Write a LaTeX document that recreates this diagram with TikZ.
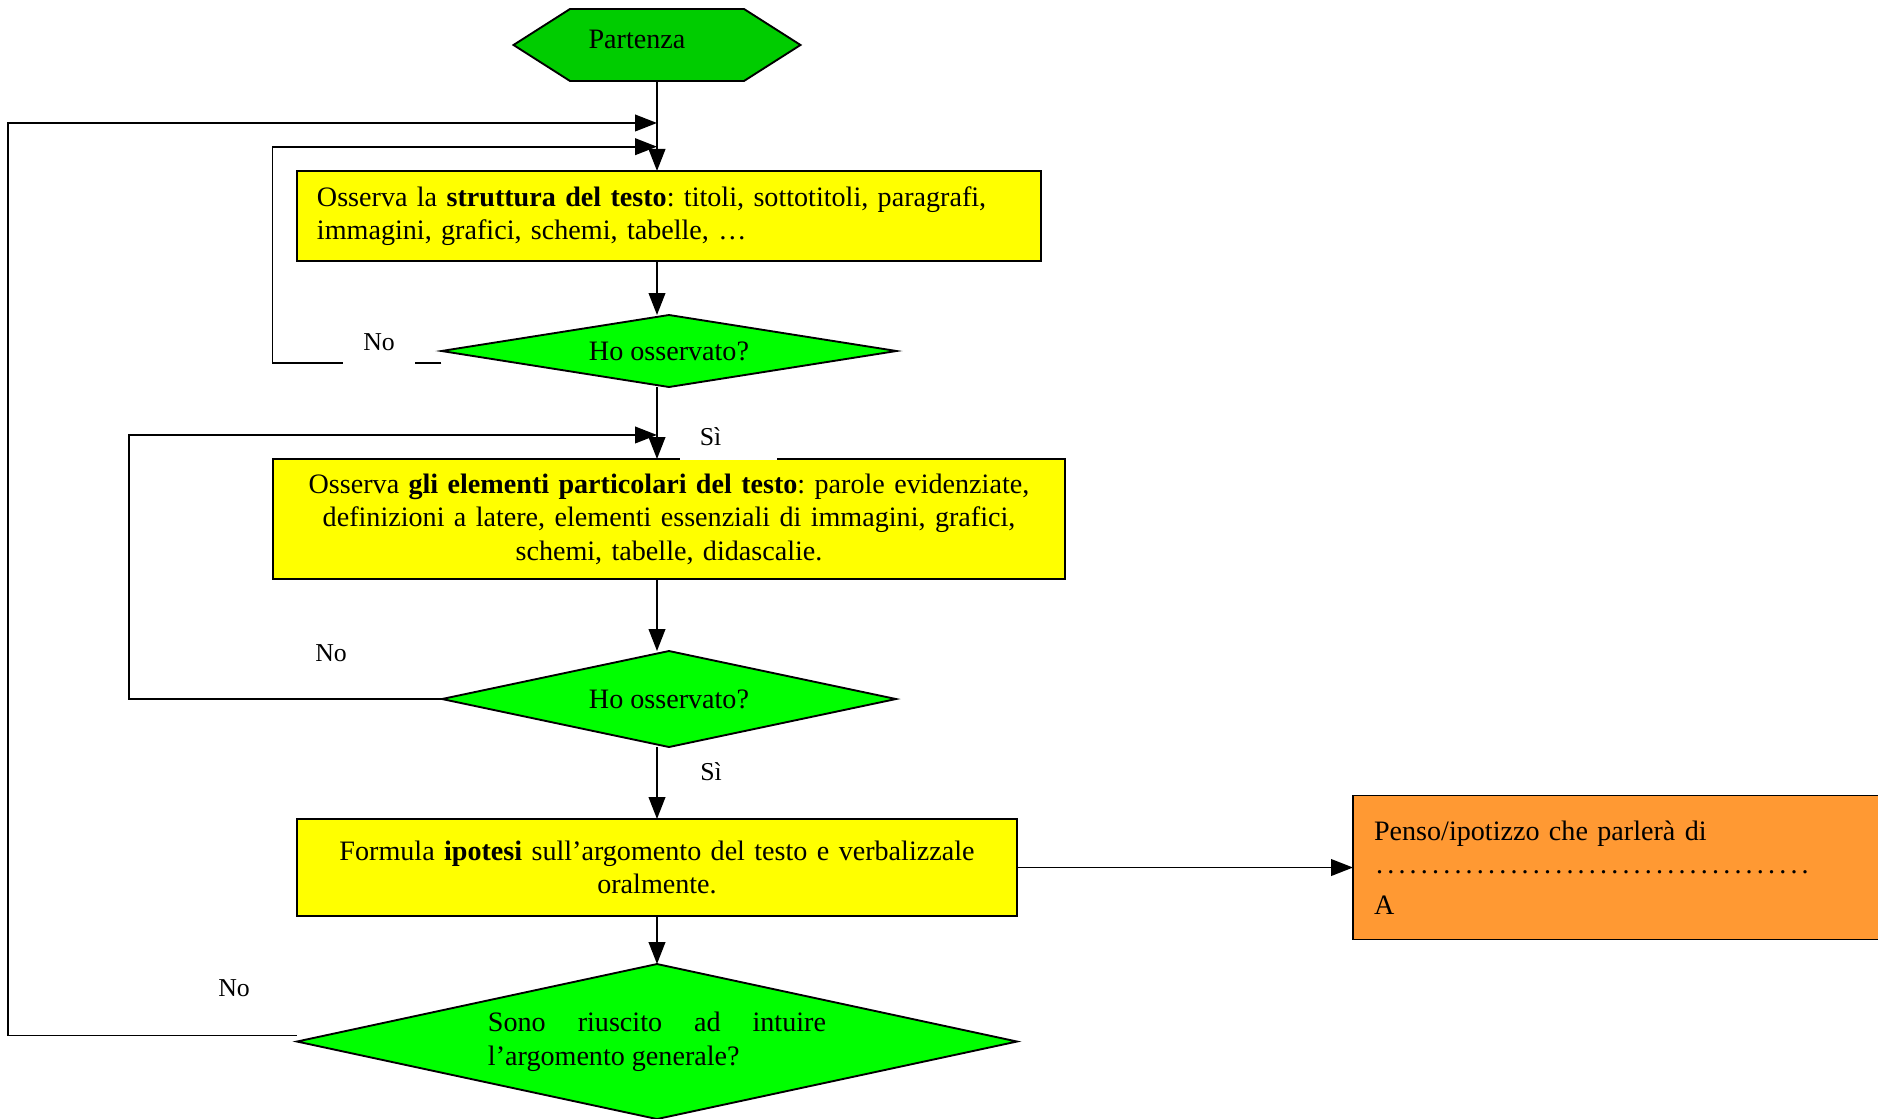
\documentclass[tikz,border=0pt]{standalone}
\usepackage{fontspec}
\setmainfont{Liberation Serif}
\usepackage{tikz}
\usetikzlibrary{positioning}
\usetikzlibrary{shapes.geometric}
\usetikzlibrary{shapes.symbols}
\usetikzlibrary{arrows.meta}

\definecolor{startgreen}{HTML}{00CC00}
\definecolor{askgreen}{HTML}{00FF00}
\definecolor{stepyellow}{HTML}{FFFF00}
\definecolor{guessorange}{HTML}{FF9933}

\newcommand{\dotrow}[1]{\leavevmode\hbox to #1{\leaders\hbox to 0.168cm{\hss.\hss}\hfill}}

\begin{document}
\begin{tikzpicture}
		[x=0.015cm, y=-0.015cm, line width=0.8pt, outer sep=0pt,
		>={Triangle[length=0.33cm, width=0.25cm]},
		font=\fontsize{12}{14.3}\selectfont\frenchspacing,
		stepbox/.style={rectangle, draw=black, fill=stepyellow, inner xsep=0.3cm, inner ysep=0pt},
		ask/.style={diamond, draw=black, fill=askgreen, inner sep=0pt},
		tag/.style={fill=white, inner xsep=0.3cm, inner ysep=0.21cm, align=left, font=\fontsize{11}{13}\selectfont}]
		\useasboundingbox (0,0) rectangle (1878,1119);

		\node[signal, signal to=east and west, signal pointer angle=65, draw=black, fill=startgreen,
			minimum width=4.305cm, minimum height=1.08cm, inner sep=0pt] (start) at (657,45) {\raisebox{0.18cm}{Partenza}\hspace*{0.6cm}};
		\node[stepbox, below=1.35cm of start, xshift=0.18cm, text width=10.56cm, minimum height=1.35cm, align=left] (box1)
			{Osserva la \textbf{struttura del testo}: titoli, sottotitoli, paragrafi,\\ immagini, grafici, schemi, tabelle, …};
		\node[ask, aspect=6.3, below=0.81cm of box1, minimum width=6.825cm, minimum height=1.08cm] (d1) {Ho osservato?};
		\node[stepbox, below=1.08cm of d1, text width=11.28cm, minimum height=1.8cm, align=center] (box2)
			{Osserva \textbf{gli elementi particolari del testo}: parole evidenziate,\\ definizioni a latere, elementi essenziali di immagini, grafici,\\ schemi, tabelle, didascalie.};
		\node[ask, aspect=4.7, below=1.08cm of box2, minimum width=6.81cm, minimum height=1.44cm] (d2) {Ho osservato?};
		\node[stepbox, below=1.08cm of d2, xshift=-0.18cm, text width=10.2cm, minimum height=1.455cm, align=center] (box3)
			{Formula \textbf{ipotesi} sull'argomento del testo e verbalizzale\\ oralmente.};
		\node[ask, aspect=4.65, below=0.72cm of box3, minimum width=10.8cm, minimum height=2.325cm, text width=5.07cm, align=justify] (d3)
			{Sono riuscito ad intuire\linebreak l'argomento generale?};
		\node[rectangle, draw=black, fill=guessorange, right=5.04cm of box3, minimum width=8.13cm, minimum height=2.16cm,
			inner xsep=0.315cm, text width=7.5cm, align=left] (guess)
			{Penso/ipotizzo che parlerà di\\ \dotrow{6.66cm}\\[0.1cm] A};

		\coordinate (in3) at (657,123);
		\coordinate (in1) at (657,146.7);
		\coordinate (in2) at (657,435);

		\draw[->] (start.south) -- (start.south |- box1.north);
		\draw[->] (start.south |- box1.south) -- (start.south |- d1.north);
		\draw[->] (start.south |- d1.south) -- (start.south |- box2.north);
		\draw[->] (start.south |- box2.south) -- (start.south |- d2.north);
		\draw[->] (box3.north |- d2.south) -- (box3.north);
		\draw[->] (box3.south) -- (d3.north);
		\draw[->] (box3.east) -- (box3.east -| guess.west);

		\draw[->] ([yshift=-0.18cm]d1.west) -- ++(-169,0) |- (in1);
		\draw[->] (d2.west) -- ++(-313,0) |- (in2);
		\draw[->] ([yshift=0.09cm]d3.west) -- ++(-289,0) |- (in3);

		\node[tag] (no1) at (379,342) {No};
		\node[tag, text width=0.86cm] (si1) at (728.5,437) {Sì};
		\node[tag] (no2) at (331,653) {No};
		\node[tag] (si2) at (711,772) {Sì};
		\node[tag] (no3) at (234,988) {No};
	\end{tikzpicture}
\end{document}
